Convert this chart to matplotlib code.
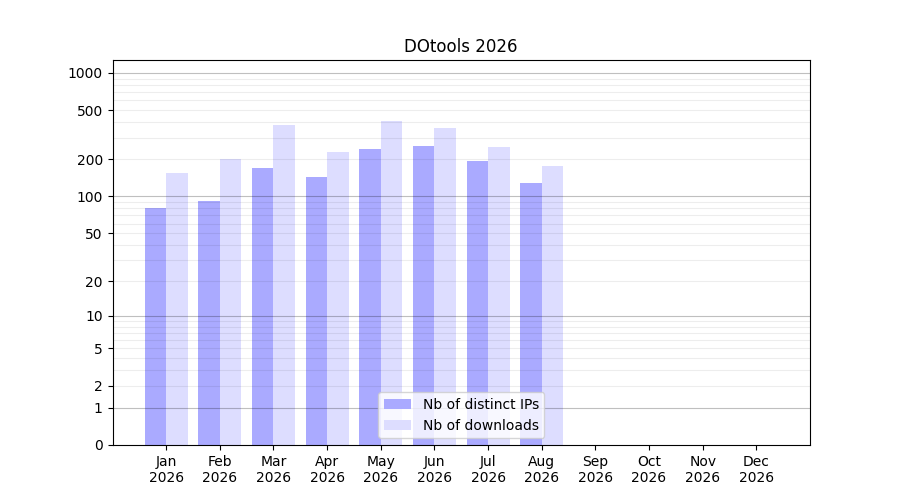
import numpy as np
import matplotlib
matplotlib.use('Agg')
import matplotlib.pyplot as plt

# monthly stats (Sep-Dec not yet available)
months = ['Jan', 'Feb', 'Mar', 'Apr', 'May', 'Jun', 'Jul', 'Aug', 'Sep', 'Oct', 'Nov', 'Dec']
year = '2026'
distinct_ips = [80, 92, 171, 145, 244, 258, 195, 129, 0, 0, 0, 0]
downloads = [156, 202, 382, 230, 411, 361, 253, 178, 0, 0, 0, 0]

ytick_vals = [0, 1, 2, 5, 10, 20, 50, 100, 200, 500, 1000]
decades = [1, 10, 100, 1000]
minor_vals = [k * 10 ** d for d in range(3) for k in range(2, 10)]


def fwd(y):
    return np.log10(1 + np.clip(y, 0, None))


def inv(y):
    return 10 ** y - 1


fig, ax = plt.subplots(figsize=(9, 5), dpi=100)
x = np.arange(len(months))
w = 0.4

ax.bar(x - w / 2, distinct_ips, w, color='#aaaaff', label='Nb of distinct IPs', zorder=1)
ax.bar(x + w / 2, downloads, w, color='#ddddff', label='Nb of downloads', zorder=1)

ax.set_yscale('function', functions=(fwd, inv))
ax.set_ylim(0, 1270)
ax.set_xlim(-1, 12)

ax.set_yticks(ytick_vals)
ax.set_yticklabels([str(v) for v in ytick_vals])
ax.set_yticks(minor_vals, minor=True)
ax.tick_params(axis='y', which='minor', length=0)

# light lines at every step, darker at each decade (translucent, so they show over the bars)
for v in minor_vals:
    ax.axhline(v, color='black', alpha=0.07, lw=0.8, zorder=2)
for v in decades:
    ax.axhline(v, color='black', alpha=0.25, lw=0.8, zorder=2)

ax.set_xticks(x)
ax.set_xticklabels([m + '\n' + year for m in months])

ax.set_title('DOtools ' + year)
ax.legend(loc='lower center')

plt.savefig('out.png')
